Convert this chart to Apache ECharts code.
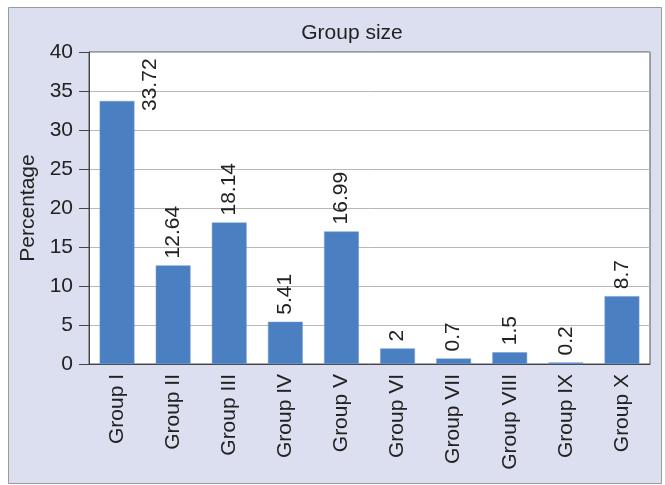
<!DOCTYPE html>
<html>
<head>
<meta charset="utf-8">
<script src="https://cdn.jsdelivr.net/npm/echarts@6/dist/echarts.min.js"></script>
<style>
	html, body { margin: 0; padding: 0; background: #ffffff; }
	#main { width: 665px; height: 485px; }
</style>
</head>
<body>
<div id="main"></div>
<script>
var categories = ['Group I', 'Group II', 'Group III', 'Group IV', 'Group V', 'Group VI', 'Group VII', 'Group VIII', 'Group IX', 'Group X'];
var percentages = [33.72, 12.64, 18.14, 5.41, 16.99, 2, 0.7, 1.5, 0.2, 8.7];
var yTicks = [0, 5, 10, 15, 20, 25, 30, 35, 40];

var font = 'Liberation Sans, Arial, sans-serif';

// first label sits beside its bar, like in the original
var barData = percentages.map(function(v, i) {
	if (i === 0) {
		return { value: v, label: { position: [51, 10] } };
	}
	return v;
});

var myChart = echarts.init(document.getElementById('main'));
myChart.setOption({
	animation: false,
	graphic: [{
		type: 'rect',
		z: -10,
		shape: { x: 8.5, y: 7.5, width: 653, height: 476 },
		style: { fill: '#dcdfef', stroke: '#9a9a9a', lineWidth: 1 }
	}],
	title: {
		text: 'Group size',
		left: 347,
		top: 18,
		textAlign: 'center',
		textStyle: { fontFamily: font, fontSize: 21, fontWeight: 'normal', color: '#222' }
	},
	grid: {
		left: 89,
		right: 15,
		top: 52,
		bottom: 121,
		show: true,
		backgroundColor: '#ffffff',
		borderColor: '#555555',
		borderWidth: 1
	},
	xAxis: {
		type: 'category',
		data: categories,
		axisLine: { lineStyle: { color: '#444', width: 1 } },
		axisTick: { show: false },
		axisLabel: {
			rotate: 90,
			margin: 10,
			fontFamily: font,
			fontSize: 21,
			color: '#222'
		}
	},
	yAxis: {
		type: 'value',
		min: yTicks[0],
		max: yTicks[yTicks.length - 1],
		interval: 5,
		name: 'Percentage',
		nameLocation: 'middle',
		nameGap: 50,
		nameTextStyle: { fontFamily: font, fontSize: 21, color: '#222' },
		axisLine: { show: true, lineStyle: { color: '#444', width: 1 } },
		axisTick: { show: true, length: 10, lineStyle: { color: '#444' } },
		axisLabel: { margin: 16, fontFamily: font, fontSize: 21, color: '#222' },
		splitLine: { lineStyle: { color: '#b8b8b8', width: 1 } }
	},
	series: [{
		type: 'bar',
		data: barData,
		barWidth: '62%',
		itemStyle: { color: '#4a80c1', borderColor: '#6f9bd0', borderWidth: 0.5 },
		label: {
			show: true,
			position: 'top',
			rotate: 90,
			align: 'left',
			verticalAlign: 'middle',
			distance: 7,
			fontFamily: font,
			fontSize: 21,
			color: '#222'
		}
	}]
});
</script>
</body>
</html>
